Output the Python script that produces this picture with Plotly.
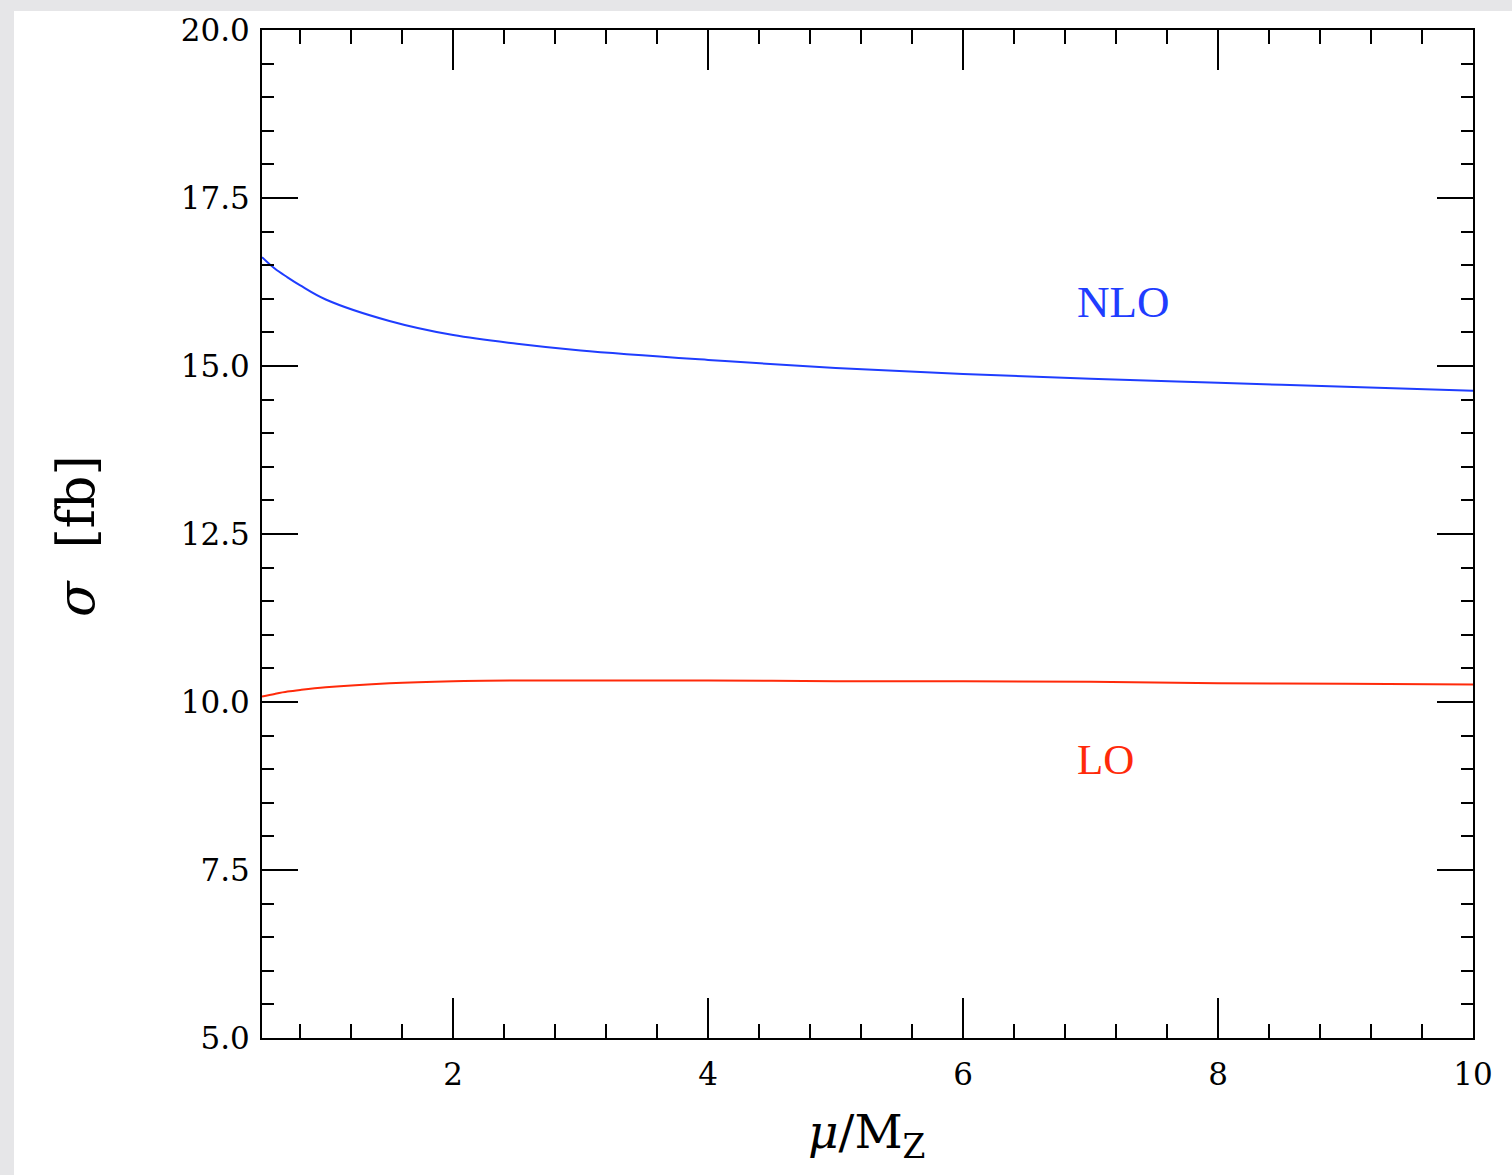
import plotly.graph_objects as go

# ---- data ----
mu = [0.5, 0.6, 0.7, 0.8, 1.0, 1.5, 2.0, 2.5, 3.0, 4.0, 5.0, 6.0, 7.0, 8.0, 9.0, 10.0]
sigma_nlo = [16.62, 16.45, 16.32, 16.20, 15.99, 15.67, 15.46, 15.33, 15.23, 15.09, 14.97, 14.88, 14.81, 14.75, 14.69, 14.63]
sigma_lo = [10.08, 10.12, 10.155, 10.18, 10.22, 10.28, 10.31, 10.32, 10.32, 10.32, 10.31, 10.31, 10.30, 10.28, 10.27, 10.26]

x_ticks = [2, 4, 6, 8, 10]
x_ticktext = ["2", "4", "6", "8", "10"]
y_ticks = [5.0, 7.5, 10.0, 12.5, 15.0, 17.5, 20.0]
y_ticktext = ["5.0", "7.5", "10.0", "12.5", "15.0", "17.5", "20.0"]

NLO_COLOR = "#1f3dff"
LO_COLOR = "#ff2a0a"
BG_GRAY = "#e6e6e8"

W, H = 1512, 1175
L, R, T, B = 262, 39, 30, 137
PW, PH = W - L - R, H - T - B

def px(xp):
    return (xp - L) / PW

def py(yp):
    return (H - B - yp) / PH

fig = go.Figure()
fig.add_trace(go.Scatter(x=mu, y=sigma_nlo, mode="lines",
                         line=dict(color=NLO_COLOR, width=2, shape="spline", smoothing=1.0),
                         name="NLO", showlegend=False))
fig.add_trace(go.Scatter(x=mu, y=sigma_lo, mode="lines",
                         line=dict(color=LO_COLOR, width=2, shape="spline", smoothing=1.0),
                         name="LO", showlegend=False))

tickfont = dict(family="DejaVu Serif", size=31, color="black")

fig.update_xaxes(range=[0.5, 10], tickmode="array", tickvals=x_ticks, ticktext=x_ticktext,
                 ticks="inside", ticklen=40, tickwidth=2, tickcolor="black",
                 showline=True, linewidth=2, linecolor="black", mirror="allticks",
                 showgrid=False, zeroline=False, tickfont=tickfont, ticklabelstandoff=8,
                 minor=dict(tick0=0, dtick=0.4, ticks="inside", ticklen=14, tickwidth=2,
                            tickcolor="black", showgrid=False))
fig.update_yaxes(range=[5, 20], tickmode="array", tickvals=y_ticks, ticktext=y_ticktext,
                 ticks="inside", ticklen=36, tickwidth=2, tickcolor="black",
                 showline=True, linewidth=2, linecolor="black", mirror="allticks",
                 showgrid=False, zeroline=False, tickfont=tickfont, ticklabelstandoff=4,
                 minor=dict(tick0=0, dtick=0.5, ticks="inside", ticklen=12, tickwidth=2,
                            tickcolor="black", showgrid=False))

annotations = [
    dict(x=6.876, y=15.95, xref="x", yref="y", text="NLO", showarrow=False, xanchor="left",
         yanchor="middle", font=dict(family="Liberation Serif", size=45, color=NLO_COLOR)),
    dict(x=6.876, y=9.15, xref="x", yref="y", text="LO", showarrow=False, xanchor="left",
         yanchor="middle", font=dict(family="Liberation Serif", size=43, color=LO_COLOR)),
    dict(x=px(866), y=py(1135), xref="paper", yref="paper", text="<i>μ</i>/M<sub>Z</sub>",
         showarrow=False, xanchor="center", yanchor="middle",
         font=dict(family="DejaVu Serif", size=47, color="black")),
    dict(x=px(76), y=py(536), xref="paper", yref="paper", text="<i>σ</i>  [fb]",
         showarrow=False, xanchor="center", yanchor="middle", textangle=-90,
         font=dict(family="DejaVu Serif", size=52, color="black")),
]

shapes = [
    dict(type="rect", xref="paper", yref="paper", x0=px(14), x1=px(W + 5), y0=py(H + 5), y1=py(11),
         fillcolor="white", line=dict(width=0), layer="below"),
]

fig.update_layout(width=W, height=H, margin=dict(l=L, r=R, t=T, b=B, autoexpand=False),
                  paper_bgcolor=BG_GRAY, plot_bgcolor="white",
                  annotations=annotations, shapes=shapes, showlegend=False)

fig.write_html("out.html", config={"displayModeBar": False},
               post_script="document.body.style.margin='0';document.body.style.background='%s';" % BG_GRAY)
